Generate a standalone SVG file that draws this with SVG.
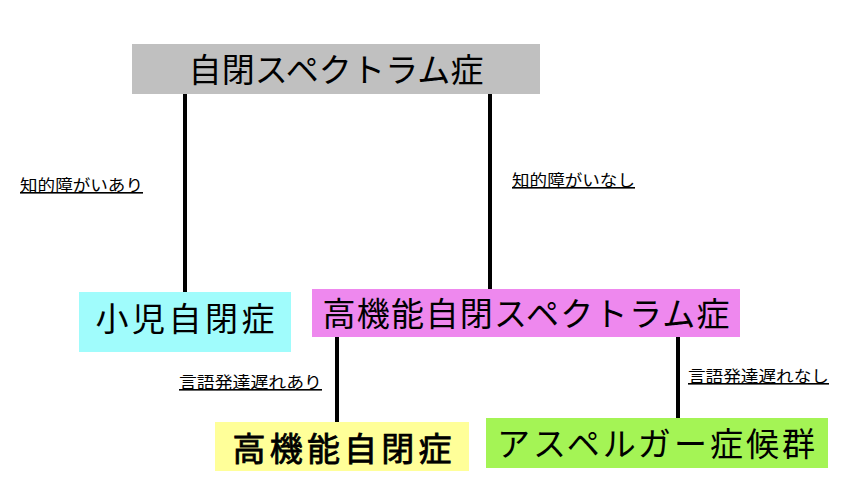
<svg xmlns="http://www.w3.org/2000/svg" width="842" height="502" viewBox="0 0 842 502">
<style>
.big{font-family:"Noto Sans CJK JP","Noto Sans",sans-serif;font-size:33px;fill:#000;text-anchor:middle}
.lbl{font-family:"Noto Sans CJK JP","Noto Sans",sans-serif;font-size:16px;fill:#000;text-decoration:underline}
.con{stroke:#000;stroke-width:4;fill:none}
</style>
<rect width="842" height="502" fill="#fff"/>
<g id="connectors">
<line class="con" x1="185" y1="94" x2="185" y2="292"/>
<line class="con" x1="490" y1="94" x2="490" y2="289"/>
<line class="con" x1="337" y1="337" x2="337" y2="422"/>
<line class="con" x1="678" y1="337" x2="678" y2="418"/>
<text class="lbl" x="20" y="191" textLength="123" lengthAdjust="spacingAndGlyphs">知的障がいあり</text>
<text class="lbl" x="512" y="186" textLength="123" lengthAdjust="spacingAndGlyphs">知的障がいなし</text>
<text class="lbl" x="179" y="388" textLength="143" lengthAdjust="spacingAndGlyphs">言語発達遅れあり</text>
<text class="lbl" x="688" y="382" textLength="141" lengthAdjust="spacingAndGlyphs">言語発達遅れなし</text>
</g>
<g id="asd">
<rect x="132" y="44" width="408" height="50" fill="#c0c0c0"/>
<text class="big" x="336" y="82" textLength="295" lengthAdjust="spacing">自閉スペクトラム症</text>
</g>
<g id="child-autism">
<rect x="79" y="292" width="212" height="60" fill="#a0fcfc"/>
<text class="big" x="185" y="331" font-size="34" textLength="179" lengthAdjust="spacing">小児自閉症</text>
</g>
<g id="hf-asd">
<rect x="312" y="289" width="428" height="48" fill="#ee88ee"/>
<text class="big" x="526" y="326" textLength="407" lengthAdjust="spacing">高機能自閉スペクトラム症</text>
</g>
<g id="hf-autism">
<rect x="215" y="422" width="254" height="49" fill="#ffff99"/>
<text class="big" x="342" y="461" font-size="37" stroke="#000" stroke-width="0.8" textLength="219" lengthAdjust="spacing">高機能自閉症</text>
</g>
<g id="asperger">
<rect x="486" y="418" width="342" height="50" fill="#a4f455"/>
<text class="big" x="656" y="456" font-size="34" textLength="318" lengthAdjust="spacing">アスペルガー症候群</text>
</g>
</svg>
